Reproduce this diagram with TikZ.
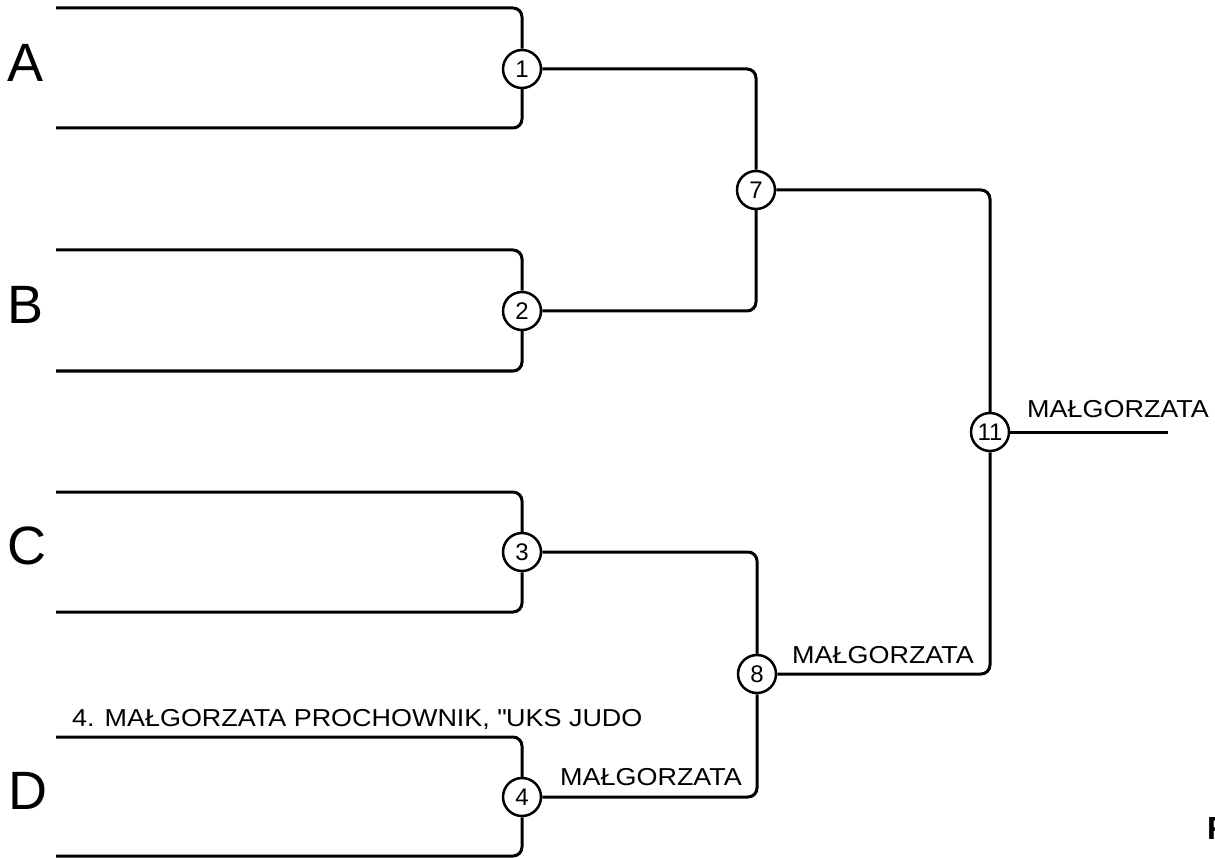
\documentclass[tikz,border=0pt]{standalone}
\usepackage{fontspec}
\setmainfont{Liberation Sans}
\newfontfamily\widesans[FakeStretch=1.1]{Liberation Sans}
\usetikzlibrary{positioning}

\begin{document}
\begin{tikzpicture}
    [x=1pt, y=-1pt,
    match/.style={circle, draw, line width=2.5pt, fill=white,
        inner sep=0pt, minimum size=38pt,
        font=\fontsize{24}{24}\selectfont},
    pool/.style={anchor=west, inner sep=0pt,
        font=\fontsize{54}{54}\selectfont},
    entrant/.style={font=\widesans\fontsize{24.5}{24.5}\selectfont,
        inner sep=0pt, anchor=base west},
    wire/.style={line width=3pt, rounded corners=9pt}]

    \useasboundingbox (0,0) rectangle (1215,858);

    % pools
    \node[pool] (pa) at (7,62.5) {A};
    \node[pool] (pb) at (7,304.5) {B};
    \node[pool] (pc) at (7,545.5) {C};
    \node[pool] (pd) at (8,790.5) {D};

    % matches
    \node[match] (m1) at (522,69) {1};
    \node[match] (m2) at (522,311) {2};
    \node[match] (m3) at (522,552) {3};
    \node[match] (m4) at (522,797) {4};
    \node[match] (m7) at (756,190) {7};
    \node[match] (m8) at (757,674) {8};
    \node[match] (m11) at (990,432) {11};

    % free ends
    \coordinate (a1) at (56,8);
    \coordinate (a2) at (56,128);
    \coordinate (b1) at (56,250);
    \coordinate (b2) at (56,371);
    \coordinate (c1) at (56,492);
    \coordinate (c2) at (56,612);
    \coordinate (d1) at (56,737);
    \coordinate (d2) at (56,856);
    \coordinate (win) at (1168,432);

    \draw[wire] (a1) -| (m1);
    \draw[wire] (a2) -| (m1);
    \draw[wire] (b1) -| (m2);
    \draw[wire] (b2) -| (m2);
    \draw[wire] (c1) -| (m3);
    \draw[wire] (c2) -| (m3);
    \draw[wire] (d1) -| (m4);
    \draw[wire] (d2) -| (m4);
    \draw[wire] (m1) -| (m7);
    \draw[wire] (m2) -| (m7);
    \draw[wire] (m3) -| (m8);
    \draw[wire] (m4) -| (m8);
    \draw[wire] (m7) -| (m11);
    \draw[wire] (m8) -| (m11);
    \draw[wire] (m11) -- (win);

    % names
    \node[entrant] (nd) at (72,726)
        {4. MAŁGORZATA PROCHOWNIK, \textquotedbl UKS JUDO};
    \node[entrant] (w4) at (560,785) {MAŁGORZATA};
    \node[entrant] (w8) at (792,663) {MAŁGORZATA};
    \node[entrant] (w11) at (1027,417) {MAŁGORZATA};

    \node[anchor=base west, inner sep=0pt,
        font=\fontsize{32}{32}\selectfont\bfseries] (fin) at (1207,839) {F};
\end{tikzpicture}
\end{document}
